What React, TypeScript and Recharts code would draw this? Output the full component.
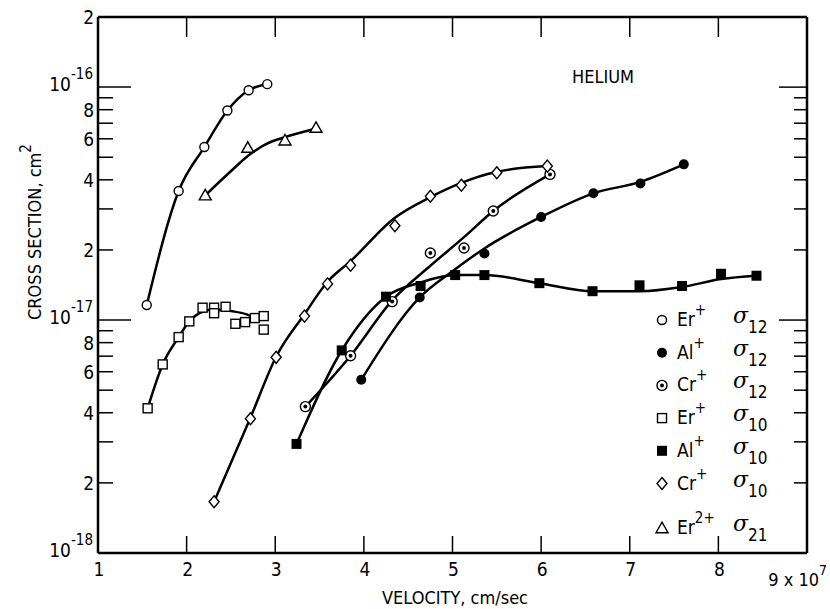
import { ComposedChart, Line, Scatter, XAxis, YAxis, Customized } from "recharts";

const FONT = "'DejaVu Sans Condensed', 'Liberation Sans Narrow', 'Arial Narrow', sans-serif";

// velocity in units of 1e7 cm/sec, cross section in cm^2
const xTicks = [1, 2, 3, 4, 5, 6, 7, 8, 9];
const yTicks = [
  1e-18, 2e-18, 3e-18, 4e-18, 5e-18, 6e-18, 7e-18, 8e-18, 9e-18,
  1e-17, 2e-17, 3e-17, 4e-17, 5e-17, 6e-17, 7e-17, 8e-17, 9e-17,
  1e-16, 2e-16,
];

// measured points
const erPlusS12 = [[1.55, 1.16e-17], [1.91, 3.58e-17], [2.2, 5.53e-17], [2.46, 7.94e-17], [2.7, 9.7e-17], [2.91, 1.03e-16]];
const alPlusS12 = [[3.97, 5.54e-18], [4.63, 1.25e-17], [5.36, 1.93e-17], [6.0, 2.77e-17], [6.59, 3.5e-17], [7.12, 3.86e-17], [7.61, 4.66e-17]];
const crPlusS12 = [[3.34, 4.25e-18], [3.85, 7.03e-18], [4.32, 1.2e-17], [4.75, 1.94e-17], [5.13, 2.04e-17], [5.46, 2.94e-17], [6.1, 4.22e-17]];
const erPlusS10 = [
  [1.56, 4.18e-18], [1.73, 6.45e-18], [1.91, 8.45e-18], [2.03, 9.87e-18], [2.18, 1.13e-17], [2.31, 1.13e-17], [2.31, 1.07e-17],
  [2.44, 1.14e-17], [2.55, 9.64e-18], [2.66, 9.8e-18], [2.77, 1.02e-17], [2.87, 1.04e-17], [2.87, 9.1e-18],
];
const alPlusS10 = [
  [3.24, 2.94e-18], [3.75, 7.41e-18], [4.25, 1.26e-17], [4.64, 1.4e-17], [5.03, 1.56e-17], [5.36, 1.56e-17],
  [5.98, 1.44e-17], [6.58, 1.33e-17], [7.11, 1.41e-17], [7.59, 1.4e-17], [8.03, 1.58e-17], [8.43, 1.55e-17],
];
const crPlusS10 = [
  [2.31, 1.66e-18], [2.72, 3.77e-18], [3.01, 6.92e-18], [3.33, 1.04e-17], [3.59, 1.43e-17], [3.85, 1.72e-17],
  [4.35, 2.54e-17], [4.75, 3.4e-17], [5.1, 3.79e-17], [5.5, 4.29e-17], [6.07, 4.58e-17],
];
const er2PlusS21 = [[2.21, 3.43e-17], [2.69, 5.49e-17], [3.11, 5.9e-17], [3.46, 6.69e-17]];

// hand-drawn fit curves
const erPlusS12Curve = erPlusS12;
const alPlusS12Curve = [[3.97, 5.54e-18], [4.63, 1.25e-17], [5.0, 1.62e-17], [5.36, 2.03e-17], [6.0, 2.77e-17], [6.59, 3.5e-17], [7.12, 3.92e-17], [7.61, 4.66e-17]];
const crPlusS12Curve = [[3.34, 4.25e-18], [3.85, 7.03e-18], [4.32, 1.215e-17], [4.75, 1.71e-17], [5.13, 2.27e-17], [5.46, 2.94e-17], [6.1, 4.22e-17]];
const erPlusS10Curve = [[1.56, 4.18e-18], [1.73, 6.45e-18], [1.91, 8.45e-18], [2.03, 9.87e-18], [2.18, 1.086e-17], [2.31, 1.11e-17], [2.52, 1.09e-17], [2.67, 1.06e-17], [2.8, 1.007e-17]];
const alPlusS10Curve = [
  [3.24, 2.94e-18], [3.75, 7.41e-18], [4.25, 1.26e-17], [4.64, 1.45e-17], [5.03, 1.56e-17], [5.36, 1.56e-17],
  [5.98, 1.44e-17], [6.58, 1.33e-17], [7.11, 1.33e-17], [7.59, 1.386e-17], [8.03, 1.5e-17], [8.43, 1.55e-17],
];
const crPlusS10Curve = [
  [2.31, 1.66e-18], [2.72, 3.81e-18], [3.01, 6.96e-18], [3.33, 1.06e-17], [3.59, 1.46e-17], [3.85, 1.79e-17],
  [4.35, 2.75e-17], [4.75, 3.37e-17], [5.1, 3.88e-17], [5.5, 4.33e-17], [6.07, 4.58e-17],
];
const er2PlusS21Curve = [[2.21, 3.43e-17], [2.52, 4.43e-17], [2.69, 5.06e-17], [2.89, 5.68e-17], [3.11, 6.1e-17], [3.42, 6.58e-17]];

const legendIons = ["Er", "Al", "Cr", "Er", "Al", "Cr", "Er"];
const legendCharges = ["+", "+", "+", "+", "+", "+", "2+"];
const legendSigmas = ["12", "12", "12", "10", "10", "10", "21"];
const legendMarkers = ["circle", "disc", "dotted", "square", "block", "diamond", "triangle"];

const toPts = (a: number[][]) => a.map(([x, y]) => ({ x, y }));

const series = [
  { pts: erPlusS12, curve: erPlusS12Curve, marker: "circle" },
  { pts: alPlusS12, curve: alPlusS12Curve, marker: "disc" },
  { pts: crPlusS12, curve: crPlusS12Curve, marker: "dotted" },
  { pts: erPlusS10, curve: erPlusS10Curve, marker: "square" },
  { pts: alPlusS10, curve: alPlusS10Curve, marker: "block" },
  { pts: crPlusS10, curve: crPlusS10Curve, marker: "diamond" },
  { pts: er2PlusS21, curve: er2PlusS21Curve, marker: "triangle" },
];

function Marker({ kind, cx, cy }: { kind: string; cx: number; cy: number }) {
  const s = { stroke: "#000", strokeWidth: 1.4 };
  switch (kind) {
    case "circle":
      return <circle cx={cx} cy={cy} r={4.5} fill="#fff" {...s} />;
    case "disc":
      return <circle cx={cx} cy={cy} r={5} fill="#000" />;
    case "dotted":
      return (
        <g>
          <circle cx={cx} cy={cy} r={5} fill="#fff" {...s} />
          <circle cx={cx} cy={cy} r={2} fill="#000" />
        </g>
      );
    case "square":
      return <rect x={cx - 4.5} y={cy - 4.5} width={9} height={9} fill="#fff" {...s} />;
    case "block":
      return <rect x={cx - 5} y={cy - 5} width={10} height={10} fill="#000" />;
    case "diamond":
      return <polygon points={`${cx},${cy - 6} ${cx + 5},${cy} ${cx},${cy + 6} ${cx - 5},${cy}`} fill="#fff" {...s} />;
    default:
      return <polygon points={`${cx},${cy - 6} ${cx + 6},${cy + 4.5} ${cx - 6},${cy + 4.5}`} fill="#fff" {...s} />;
  }
}

function split(v: number) {
  const e = Math.floor(Math.log10(v) + 1e-9);
  return { e, m: Math.round(v / Math.pow(10, e)) };
}

function LeftTick(props: any) {
  const { x, y, payload } = props;
  const { e, m } = split(payload.value);
  const top = payload.value > 1.5e-16;
  const bottom = e === -18 && m === 1;
  return (
    <g>
      {!top && !bottom && <line x1={x} y1={y} x2={x + (m === 1 ? 33 : 15)} y2={y} stroke="#000" strokeWidth={1.5} />}
      {m === 1 ? (
        <text x={x - 5} y={y + 4} textAnchor="end" fontSize={19} fontFamily={FONT} fill="#000">
          10<tspan dy={-12} fontSize={15}>{e}</tspan>
        </text>
      ) : m % 2 === 0 ? (
        <text x={x - 4} y={y + 7} textAnchor="end" fontSize={19} fontFamily={FONT} fill="#000">
          {m}
        </text>
      ) : null}
    </g>
  );
}

function RightTick(props: any) {
  const { x, y, payload } = props;
  const { m } = split(payload.value);
  if (payload.value > 1.5e-16 || payload.value < 1.5e-18) return <g />;
  return <line x1={x} y1={y} x2={x - (m === 1 ? 28 : 13)} y2={y} stroke="#000" strokeWidth={1.5} />;
}

function BottomTick(props: any) {
  const { x, y, payload } = props;
  const v = payload.value;
  if (v === 9) {
    return (
      <text x={827} y={y + 33} textAnchor="end" fontSize={18} fontFamily={FONT} fill="#000">
        9 x 10<tspan dy={-11} fontSize={14}>7</tspan>
      </text>
    );
  }
  return (
    <g>
      {v > 1 && <line x1={x} y1={y} x2={x} y2={y - 17} stroke="#000" strokeWidth={1.5} />}
      <text x={x + 1} y={y + 23} textAnchor="middle" fontSize={19} fontFamily={FONT} fill="#000">
        {v}
      </text>
    </g>
  );
}

function TopTick(props: any) {
  const { x, y, payload } = props;
  if (payload.value <= 1 || payload.value >= 9) return <g />;
  return <line x1={x} y1={y} x2={x} y2={y + 20} stroke="#000" strokeWidth={1.5} />;
}

function Annotations() {
  return (
    <g fontFamily={FONT} fill="#000">
      <text x={572} y={83} fontSize={18}>HELIUM</text>
      <text x={455} y={604} textAnchor="middle" fontSize={18}>VELOCITY, cm/sec</text>
      <text transform="translate(41, 232) rotate(-90)" textAnchor="middle" fontSize={18}>
        CROSS SECTION, cm<tspan dy={-10} fontSize={15}>2</tspan>
      </text>
      {legendIons.map((ion, i) => {
        const cy = 320 + i * 32.7 + (i === 6 ? 12 : 0);
        return (
          <g key={i}>
            <Marker kind={legendMarkers[i]} cx={662} cy={cy} />
            <text x={677} y={cy + 6} fontSize={19}>
              {ion}
              <tspan dy={-11} fontSize={15}>{legendCharges[i]}</tspan>
            </text>
            <text x={733} y={cy + 3} fontSize={22} fontStyle="italic" fontFamily="'DejaVu Serif', serif">
              σ<tspan dy={10} fontSize={17} fontStyle="normal" fontFamily={FONT}>{legendSigmas[i]}</tspan>
            </text>
          </g>
        );
      })}
    </g>
  );
}

export default function App() {
  const axisLine = { stroke: "#000", strokeWidth: 2.5 };
  return (
    <div style={{ position: "absolute", left: 0, top: 0, width: 830, height: 609, background: "#fff" }}>
      <ComposedChart width={830} height={609} margin={{ top: 16, right: 22, bottom: 0, left: 0 }}>
        <XAxis
          dataKey="x"
          type="number"
          domain={[1, 9]}
          ticks={xTicks}
          interval={0}
          allowDataOverflow
          height={56}
          tickSize={0}
          tickMargin={0}
          tickLine={false}
          axisLine={axisLine}
          tick={<BottomTick />}
        />
        <XAxis
          xAxisId="top"
          orientation="top"
          dataKey="x"
          type="number"
          domain={[1, 9]}
          ticks={xTicks}
          interval={0}
          allowDataOverflow
          height={1}
          tickSize={0}
          tickMargin={0}
          tickLine={false}
          axisLine={axisLine}
          tick={<TopTick />}
        />
        <YAxis
          dataKey="y"
          scale="log"
          domain={[1e-18, 2e-16]}
          ticks={yTicks}
          interval={0}
          allowDataOverflow
          width={98}
          tickSize={0}
          tickMargin={0}
          tickLine={false}
          axisLine={axisLine}
          tick={<LeftTick />}
        />
        <YAxis
          yAxisId="right"
          orientation="right"
          dataKey="y"
          scale="log"
          domain={[1e-18, 2e-16]}
          ticks={yTicks}
          interval={0}
          allowDataOverflow
          width={1}
          tickSize={0}
          tickMargin={0}
          tickLine={false}
          axisLine={axisLine}
          tick={<RightTick />}
        />
        {series.map((s, i) => (
          <Line
            key={`l${i}`}
            data={toPts(s.curve)}
            dataKey="y"
            type="monotone"
            stroke="#000"
            strokeWidth={2.5}
            dot={false}
            activeDot={false}
            isAnimationActive={false}
          />
        ))}
        {series.map((s, i) => (
          <Scatter
            key={`s${i}`}
            data={toPts(s.pts)}
            dataKey="y"
            shape={(p: any) => <Marker kind={s.marker} cx={p.cx} cy={p.cy} />}
            isAnimationActive={false}
          />
        ))}
        <Customized component={Annotations} />
      </ComposedChart>
    </div>
  );
}
